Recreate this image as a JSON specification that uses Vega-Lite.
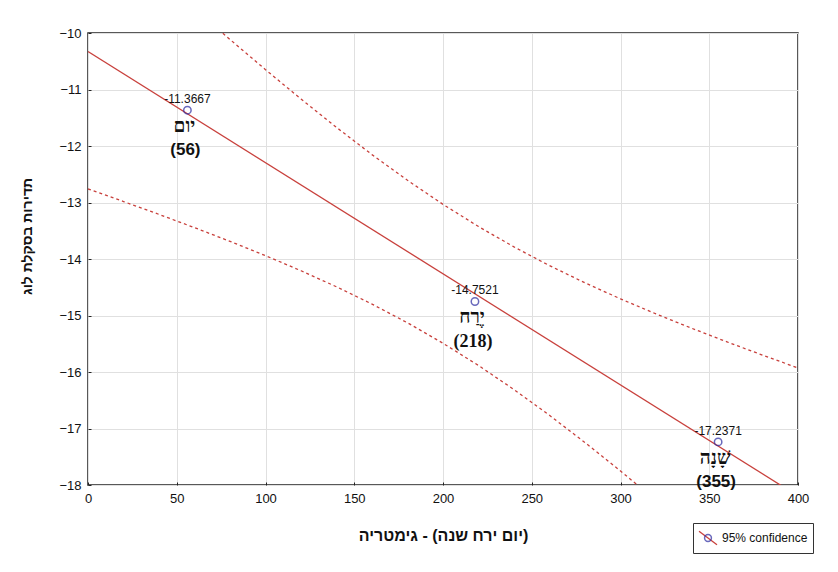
{
  "$schema": "https://vega.github.io/schema/vega-lite/v6.json",
  "width": 710,
  "height": 452,
  "autosize": {"type": "none"},
  "padding": {"left": 88, "top": 33, "right": 40, "bottom": 87},
  "background": "white",
  "config": {
    "view": {"stroke": "#222", "strokeWidth": 1.5},
    "font": "Liberation Sans",
    "axis": {
      "labelFont": "Liberation Sans",
      "labelFontSize": 13,
      "labelColor": "#111",
      "labelFlush": false,
      "gridColor": "#e0e0e0",
      "gridWidth": 1,
      "domain": false,
      "tickColor": "#222",
      "tickSize": -3,
      "titleFont": "Liberation Sans",
      "titleFontWeight": "bold",
      "titleColor": "#111"
    }
  },
  "datasets": {
    "points": [
      {"x": 56, "y": -11.3667, "value": "-11.3667", "word": "יום", "num": "(56)"},
      {"x": 218, "y": -14.7521, "value": "-14.7521", "word": "יֶרַח", "num": "(218)"},
      {"x": 355, "y": -17.2371, "value": "-17.2371", "word": "שָׁנָה", "num": "(355)"}
    ],
    "fit": [
      {"x": 0, "y": -10.3275, "series": "95% confidence"},
      {"x": 400, "y": -18.1961, "series": "95% confidence"}
    ],
    "band": [
      {"x": 0, "y": -7.8946, "side": "upper"},
      {"x": 20, "y": -8.4590, "side": "upper"},
      {"x": 40, "y": -9.0182, "side": "upper"},
      {"x": 60, "y": -9.5707, "side": "upper"},
      {"x": 80, "y": -10.1149, "side": "upper"},
      {"x": 100, "y": -10.6485, "side": "upper"},
      {"x": 120, "y": -11.1685, "side": "upper"},
      {"x": 140, "y": -11.6712, "side": "upper"},
      {"x": 160, "y": -12.1525, "side": "upper"},
      {"x": 180, "y": -12.6077, "side": "upper"},
      {"x": 200, "y": -13.0328, "side": "upper"},
      {"x": 220, "y": -13.4257, "side": "upper"},
      {"x": 240, "y": -13.7863, "side": "upper"},
      {"x": 260, "y": -14.1171, "side": "upper"},
      {"x": 280, "y": -14.4219, "side": "upper"},
      {"x": 300, "y": -14.7054, "side": "upper"},
      {"x": 320, "y": -14.9718, "side": "upper"},
      {"x": 340, "y": -15.2246, "side": "upper"},
      {"x": 360, "y": -15.4670, "side": "upper"},
      {"x": 380, "y": -15.7010, "side": "upper"},
      {"x": 400, "y": -15.9285, "side": "upper"},
      {"x": 0, "y": -12.7605, "side": "lower"},
      {"x": 20, "y": -12.9829, "side": "lower"},
      {"x": 40, "y": -13.2106, "side": "lower"},
      {"x": 60, "y": -13.4449, "side": "lower"},
      {"x": 80, "y": -13.6876, "side": "lower"},
      {"x": 100, "y": -13.9408, "side": "lower"},
      {"x": 120, "y": -14.2077, "side": "lower"},
      {"x": 140, "y": -14.4918, "side": "lower"},
      {"x": 160, "y": -14.7975, "side": "lower"},
      {"x": 180, "y": -15.1291, "side": "lower"},
      {"x": 200, "y": -15.4908, "side": "lower"},
      {"x": 220, "y": -15.8848, "side": "lower"},
      {"x": 240, "y": -16.3110, "side": "lower"},
      {"x": 260, "y": -16.7671, "side": "lower"},
      {"x": 280, "y": -17.2491, "side": "lower"},
      {"x": 300, "y": -17.7525, "side": "lower"},
      {"x": 320, "y": -18.2730, "side": "lower"},
      {"x": 340, "y": -18.8070, "side": "lower"}
    ]
  },
  "encoding": {
    "x": {
      "field": "x", "type": "quantitative",
      "scale": {"domain": [0, 400], "nice": false, "zero": false},
      "axis": {"values": [0, 50, 100, 150, 200, 250, 300, 350, 400], "labelPadding": 10, "title": "גימטריה‎ - ‎(יום ירח שנה)", "titleFontSize": 16, "titlePadding": 22}
    },
    "y": {
      "field": "y", "type": "quantitative",
      "scale": {"domain": [-18, -10], "nice": false, "zero": false},
      "axis": {"values": [-10, -11, -12, -13, -14, -15, -16, -17, -18], "labelPadding": 10, "title": "תדירות בסקלת לוג", "titleFontSize": 14, "titlePadding": 24, "titleY": 203}
    }
  },
  "layer": [
    {
      "data": {"name": "band"},
      "mark": {"type": "line", "clip": true, "color": "#c8403c", "strokeWidth": 1.3, "strokeDash": [3, 3]},
      "encoding": {"detail": {"field": "side"}}
    },
    {
      "data": {"name": "fit"},
      "mark": {"type": "line", "clip": true, "strokeWidth": 1.3},
      "encoding": {
        "stroke": {
          "field": "series", "type": "nominal",
          "scale": {"range": ["#c8403c"]},
          "legend": {
            "title": null, "orient": "none", "legendX": 605, "legendY": 490,
            "symbolType": "M-1,-0.75L1,0.75", "symbolSize": 324, "symbolStrokeWidth": 1.3,
            "labelFontSize": 12, "labelFont": "Liberation Sans", "labelColor": "#111",
            "strokeColor": "#333", "fillColor": "white", "padding": 5
          }
        }
      }
    },
    {
      "data": {"name": "points"},
      "mark": {"type": "point", "filled": false, "size": 55, "strokeWidth": 1.5},
      "encoding": {
        "color": {
          "datum": "95% confidence",
          "scale": {"range": ["#2a2aa0"]},
          "legend": {
            "title": null, "orient": "none", "legendX": 605, "legendY": 490,
            "symbolType": "M0.38,0A0.38,0.38,0,1,1,-0.38,0A0.38,0.38,0,1,1,0.38,0", "symbolSize": 324, "symbolStrokeWidth": 1.5,
            "labelFontSize": 12, "labelFont": "Liberation Sans", "labelOpacity": 0,
            "padding": 5
          }
        }
      }
    },
    {
      "data": {"name": "points"},
      "mark": {"type": "text", "fontSize": 12, "font": "Liberation Sans", "color": "#111", "baseline": "middle", "dy": -11, "dx": 0},
      "encoding": {"text": {"field": "value"}}
    },
    {
      "data": {"name": "points"},
      "mark": {"type": "text", "fontSize": 19, "font": "Liberation Serif", "fontWeight": "bold", "color": "#111", "baseline": "middle", "dy": 16, "dx": -3},
      "encoding": {"text": {"field": "word"}}
    },
    {
      "data": {"name": "points"},
      "transform": [{"filter": "datum.x != 218"}],
      "mark": {"type": "text", "fontSize": 17, "font": "Liberation Sans", "fontWeight": "bold", "color": "#111", "baseline": "middle", "dy": 40, "dx": -2},
      "encoding": {"text": {"field": "num"}}
    },
    {
      "data": {"name": "points"},
      "transform": [{"filter": "datum.x == 218"}],
      "mark": {"type": "text", "fontSize": 18, "font": "Liberation Serif", "fontWeight": "bold", "color": "#111", "baseline": "middle", "dy": 41, "dx": -2},
      "encoding": {"text": {"field": "num"}}
    }
  ]
}
